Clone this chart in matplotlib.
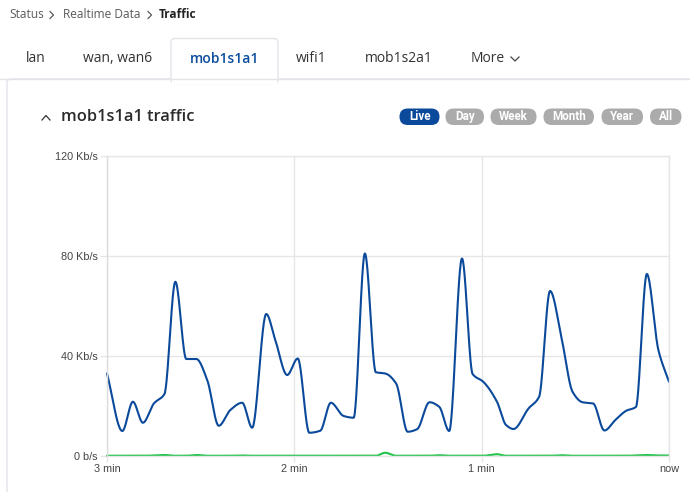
import numpy as np
import matplotlib
matplotlib.use("Agg")
import matplotlib.pyplot as plt
from matplotlib.patches import FancyBboxPatch, Rectangle

# ---------------- data ----------------
time_s = [-180, -175.1, -171.7, -168.5, -165.0, -161.6, -158.1, -154.6, -151.4, -147.9,
          -144.2, -140.5, -136.7, -133.5, -129.0, -126.1, -122.3, -118.9, -115.2, -111.7,
          -108.3, -104.2, -101.0, -97.4, -93.9, -90.9, -87.4, -83.7, -80.7, -76.7,
          -73.6, -70.4, -66.3, -62.9, -59.5, -55.1, -52.2, -49.8, -45.0, -41.6,
          -38.1, -34.3, -30.9, -27.7, -24.3, -20.7, -17.1, -13.7, -10.6, -7.1,
          -3.4, 0]
rx_kbps = [33, 10, 21.7, 13.3, 21, 24.8, 69.7, 38.8, 38.8, 30.4,
           12.1, 18.4, 21.3, 11.3, 56.8, 46.4, 32.4, 39, 9.3, 10.1,
           21.3, 16, 15.3, 81, 33.5, 33, 29, 9.7, 10.7, 21.5,
           19.7, 10, 79, 32.8, 29.7, 21.7, 12.4, 10.8, 19, 23.7,
           66, 46.4, 25.7, 21.5, 21, 10.2, 14.5, 18.1, 19.6, 72.8,
           42.4, 29.7]
tx_kbps = [0.1, 0.1, 0.1, 0.1, 0.2, 0.4, 0.1, 0.1, 0.4, 0.1,
           0.1, 0.1, 0.2, 0.1, 0.1, 0.1, 0.1, 0.1, 0.1, 0.1,
           0.1, 0.1, 0.1, 0.1, 0.1, 1.3, 0.1, 0.1, 0.1, 0.1,
           0.3, 0.1, 0.1, 0.1, 0.1, 0.7, 0.1, 0.1, 0.1, 0.1,
           0.1, 0.3, 0.1, 0.1, 0.1, 0.1, 0.1, 0.1, 0.2, 0.4,
           0.2, 0.2]

y_ticks = [0, 40, 80, 120]
y_labels = ["0 b/s", "40 Kb/s", "80 Kb/s", "120 Kb/s"]
x_ticks = [-180, -120, -60, 0]
x_labels = ["3 min", "2 min", "1 min", "now"]

breadcrumb = ["Status", "Realtime Data", "Traffic"]
tabs = ["lan", "wan, wan6", "mob1s1a1", "wifi1", "mob1s2a1", "More"]
ranges = ["Live", "Day", "Week", "Month", "Year", "All"]
title = "mob1s1a1 traffic"


def monotone(x, y, n=30):
    x = np.asarray(x, float); y = np.asarray(y, float)
    h = np.diff(x); d = np.diff(y) / h
    m = np.zeros_like(y)
    m[0], m[-1] = d[0], d[-1]
    for k in range(1, len(x) - 1):
        if d[k - 1] * d[k] <= 0:
            m[k] = 0
        else:
            w1 = 2 * h[k] + h[k - 1]; w2 = h[k] + 2 * h[k - 1]
            m[k] = (w1 + w2) / (w1 / d[k - 1] + w2 / d[k])
    xs, ys = [], []
    for k in range(len(x) - 1):
        t = np.linspace(0, 1, n, endpoint=(k == len(x) - 2))
        h00 = 2 * t**3 - 3 * t**2 + 1; h10 = t**3 - 2 * t**2 + t
        h01 = -2 * t**3 + 3 * t**2; h11 = t**3 - t**2
        xs.append(x[k] + t * h[k])
        ys.append(h00 * y[k] + h10 * h[k] * m[k] + h01 * y[k + 1] + h11 * h[k] * m[k + 1])
    return np.concatenate(xs), np.concatenate(ys)


W, H = 690, 492
fig = plt.figure(figsize=(W / 100, H / 100), dpi=100)
fig.patch.set_facecolor("white")

ui = fig.add_axes([0, 0, 1, 1], zorder=0)
ui.set_xlim(0, W); ui.set_ylim(H, 0); ui.axis("off")

UI_FONT = ["Open Sans", "DejaVu Sans"]
border = "#e3e3ea"

# breadcrumb
crumb_x = [9, 63, 159]
for i, (txt, x) in enumerate(zip(breadcrumb, crumb_x)):
    last = i == len(breadcrumb) - 1
    ui.text(x, 15, txt, fontsize=8.6, color="#222222" if last else "#5a5a5a",
            va="center", family=UI_FONT, weight="bold" if last else "normal")
for cx in (50, 148):
    ui.plot([cx, cx + 3.5, cx], [11.5, 15, 18.5], color="#5a5a5a", lw=0.9)

# card
ui.add_patch(FancyBboxPatch((7, 79), 700, 430, boxstyle="round,pad=0,rounding_size=4",
                            facecolor="white", edgecolor=border, lw=1))
ui.plot([0, W], [78.5, 78.5], color=border, lw=1)
ui.add_patch(FancyBboxPatch((171, 38.5), 107, 45, boxstyle="round,pad=0,rounding_size=4",
                            facecolor="white", edgecolor=border, lw=1))
ui.add_patch(Rectangle((171.8, 76), 105.4, 8, facecolor="white", edgecolor="none"))

tab_x = [36, 117.5, 225, 311, 399, 488]
for t, x in zip(tabs, tab_x):
    active = t == "mob1s1a1"
    ui.text(x, 59, t, fontsize=10, ha="center", va="center", family=UI_FONT,
            color="#0b4d9d" if active else "#333333", weight="semibold" if active else "normal")
ui.plot([511, 515, 519], [57, 61, 57], color="#444444", lw=0.9)

# title
ui.plot([42, 46, 50], [120, 115.5, 120], color="#333333", lw=0.9)
ui.text(61, 117, title, fontsize=11.8, ha="left", va="center", family=UI_FONT,
        color="#2b2b2b", weight="semibold")

# range pills
pill_x = [(399.5, 439.5), (445.5, 484), (490.5, 536.5), (543.5, 594), (601.5, 643), (650, 681.5)]
for r, (x0, x1) in zip(ranges, pill_x):
    col = "#0b4a9b" if r == "Live" else "#ababab"
    ui.add_patch(FancyBboxPatch((x0, 108.5), x1 - x0, 16.5,
                                boxstyle="round,pad=0,rounding_size=8.2",
                                facecolor=col, edgecolor="none"))
    ui.text((x0 + x1) / 2, 116.8, r, fontsize=8.4, ha="center", va="center",
            color="white", weight="bold", family=["Roboto", "DejaVu Sans"])

# ---------------- chart ----------------
L, R, T, B = 107, 669, 156, 456
ax = fig.add_axes([L / W, (H - B) / H, (R - L) / W, (B - T) / H], zorder=1)
ax.set_facecolor("none")
ax.set_xlim(-180, 0)
ax.set_ylim(0, 120)

grid_c = "#e6e6e6"
for s in ax.spines.values():
    s.set_color(grid_c); s.set_linewidth(1)
ax.spines["left"].set_color("#dcdcdc")
ax.grid(True, color=grid_c, lw=1)
ax.set_axisbelow(True)

ax.set_yticks(y_ticks)
ax.set_yticklabels(y_labels)
ax.set_xticks(x_ticks)
ax.set_xticklabels(x_labels)
lab_font = ["Liberation Sans", "DejaVu Sans"]
ax.tick_params(axis="y", length=5, width=1, color=grid_c, pad=1.5,
               labelsize=7.8, labelcolor="#444444")
ax.tick_params(axis="x", length=4, width=1, color=grid_c, pad=2,
               labelsize=7.8, labelcolor="#444444")
for lab in ax.get_xticklabels() + ax.get_yticklabels():
    lab.set_family(lab_font)

gx, gy = monotone(time_s, tx_kbps)
ax.plot(gx, gy, color="#22c34b", lw=1.5, solid_capstyle="round", clip_on=False)
bx, by = monotone(time_s, rx_kbps)
ax.plot(bx, by, color="#0b4a9b", lw=1.5, solid_capstyle="round", clip_on=False)

fig.savefig("out.png", dpi=100, facecolor="white")
